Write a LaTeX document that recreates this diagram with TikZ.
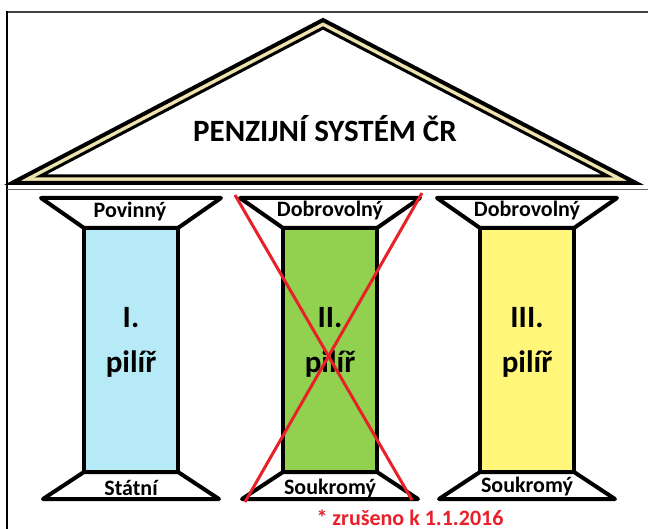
\documentclass[tikz,border=0pt]{standalone}
\usepackage{fontspec}
\setmainfont{Carlito}
\definecolor{roofbeige}{RGB}{239,228,176}
\definecolor{pilblue}{RGB}{183,234,247}
\definecolor{pilgreen}{RGB}{146,208,80}
\definecolor{pilyellow}{RGB}{255,246,122}
\definecolor{crossred}{RGB}{232,32,42}
\tikzset{
  outline/.style={draw=black, line width=4pt, line join=round},
  lbl/.style={inner sep=0pt, anchor=base, font=\fontsize{22}{26}\selectfont\bfseries},
  big/.style={inner sep=0pt, anchor=base, font=\fontsize{31}{37}\selectfont\bfseries},
}
\newcommand\pillarshape[2]{%
  \draw[outline, fill=#2] (#1-47,228) rectangle (#1+47,472);
  \draw[outline, fill=white] (#1-90,198) -- (#1+90,198) -- (#1+47,228) -- (#1-47,228) -- cycle;
  \draw[outline, fill=white] (#1-47,472) -- (#1+47,472) -- (#1+88,499) -- (#1-88,499) -- cycle;
}
\begin{document}
\begin{tikzpicture}[x=1pt,y=-1pt]
\useasboundingbox (0,0) rectangle (648,529);
\fill[white] (0,0) rectangle (648,529);
% frame
\draw[black!75, line width=2pt] (7,12) -- (648,12);
\draw[black, line width=1.2pt] (7,11) -- (7,529);
\draw[black!60, line width=0.8pt] (7,189) -- (648,189);
% roof
\draw[black, line width=4pt, fill=roofbeige, line join=miter] (323,20) -- (12,183) -- (636,183) -- cycle;
\draw[black, line width=3pt, fill=white, line join=miter] (323,28) -- (40.5,176) -- (607.5,176) -- cycle;
\node[big] (title) at (325,142) {PENZIJNÍ SYSTÉM ČR};
% pillars
\pillarshape{131}{pilblue}
\pillarshape{330}{pilgreen}
\pillarshape{527}{pilyellow}
% labels
\node[lbl] (p1top) at (130,218) {Povinný};
\node[lbl] (p2top) at (330,217) {Dobrovolný};
\node[lbl] (p3top) at (527,217) {Dobrovolný};
\node[lbl] (p1bot) at (131,495) {Státní};
\node[lbl] (p2bot) at (330,494) {Soukromý};
\node[lbl] (p3bot) at (527,492) {Soukromý};
\node[big] (p1num) at (131,328) {I.};
\node[big] (p1name) at (131,373) {pilíř};
\node[big] (p2num) at (330,328) {II.};
\node[big] (p2name) at (330,373) {pilíř};
\node[big] (p3num) at (527,328) {III.};
\node[big] (p3name) at (527,373) {pilíř};
% red cross
\coordinate (xa) at (235,195);
\coordinate (xb) at (412,500);
\coordinate (xc) at (422,193);
\coordinate (xd) at (245,502);
\draw[crossred, line width=3pt] (xa) -- (xb);
\draw[crossred, line width=3pt] (xc) -- (xd);
\node[lbl, text=crossred, font=\fontsize{22}{26}\selectfont\bfseries] (note) at (410,525) {* zrušeno k 1.1.2016};
\end{tikzpicture}
\end{document}
